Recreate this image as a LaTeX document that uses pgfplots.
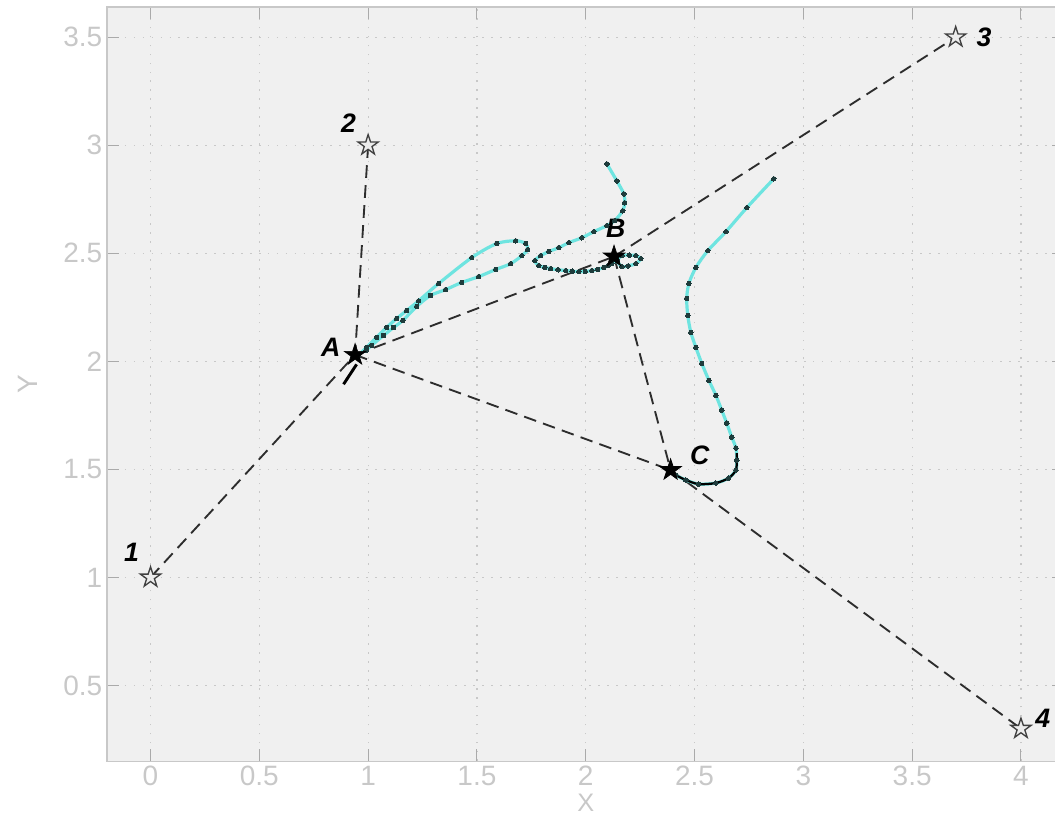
\documentclass[border=0pt]{standalone}
\usepackage{fontspec}
\setmainfont{Liberation Sans}
\usepackage{pgfplots}
\pgfplotsset{compat=1.18}
\definecolor{bgc}{RGB}{240,240,240}
\definecolor{axc}{RGB}{200,200,200}
\definecolor{tlc}{RGB}{200,200,200}
\definecolor{gridc}{RGB}{200,200,200}
\definecolor{cyanl}{RGB}{110,228,224}
\definecolor{dotc}{RGB}{30,60,60}
\definecolor{dashc}{RGB}{45,45,45}
\pgfdeclareplotmark{pentagram}{%
  \pgfpathmoveto{\pgfpointpolar{90}{\pgfplotmarksize}}%
  \pgfpathlineto{\pgfpointpolar{126}{0.382\pgfplotmarksize}}%
  \pgfpathlineto{\pgfpointpolar{162}{\pgfplotmarksize}}%
  \pgfpathlineto{\pgfpointpolar{198}{0.382\pgfplotmarksize}}%
  \pgfpathlineto{\pgfpointpolar{234}{\pgfplotmarksize}}%
  \pgfpathlineto{\pgfpointpolar{270}{0.382\pgfplotmarksize}}%
  \pgfpathlineto{\pgfpointpolar{306}{\pgfplotmarksize}}%
  \pgfpathlineto{\pgfpointpolar{342}{0.382\pgfplotmarksize}}%
  \pgfpathlineto{\pgfpointpolar{18}{\pgfplotmarksize}}%
  \pgfpathlineto{\pgfpointpolar{54}{0.382\pgfplotmarksize}}%
  \pgfpathclose
  \pgfusepathqfillstroke
}
\pgfplotsset{
  netline/.style={dashc, line width=1.4pt, dash pattern=on 9.5pt off 5.5pt},
  traj/.style={cyanl, line width=2.4pt, smooth, tension=0.5, mark=*, mark size=1.7pt, mark options={fill=dotc, draw=dotc, line width=0pt}},
}
\begin{document}
\begin{tikzpicture}
\begin{axis}[
  name=ax, at={(0,0)}, anchor=south west,
  scale only axis, width=718pt, height=565.5pt,
  xmin=-0.2, xmax=4.2, ymin=0.15, ymax=3.64,
  xtick={0,0.5,1,1.5,2,2.5,3,3.5,4},
  ytick={0.5,1,1.5,2,2.5,3,3.5},
  axis background/.style={fill=bgc},
  axis line style={draw=axc, line width=0.8pt},
  tick style={draw=axc!85!black, line width=0.8pt},
  tick align=inside, tick pos=both, major tick length=9pt,
  grid=major,
  major grid style={draw=gridc, line width=0.9pt, dash pattern=on 1.2pt off 5.5pt},
  ticklabel style={font=\fontsize{21}{24}\selectfont, text=tlc},
  /pgf/number format/assume math mode=true,
  xlabel={X}, ylabel={Y},
  every axis x label/.style={at={(rel axis cs:0.5,0)}, yshift=-31pt, anchor=center, font=\fontsize{19}{22}\selectfont, text=tlc},
  every axis y label/.style={at={(rel axis cs:0,0.5)}, xshift=-59pt, rotate=90, anchor=center, font=\fontsize{21}{24}\selectfont, text=tlc},
  clip=false,
]
% dashed network
\addplot[netline] coordinates {(0,1) (0.94,2.03)};
\addplot[netline] coordinates {(1,3) (0.94,2.03)};
\addplot[netline] coordinates {(0.94,2.03) (2.13,2.485)};
\addplot[netline] coordinates {(0.94,2.03) (2.39,1.497)};
\addplot[netline] coordinates {(2.13,2.485) (3.7,3.5)};
\addplot[netline] coordinates {(2.13,2.485) (2.39,1.497)};
\addplot[netline] coordinates {(2.39,1.497) (4,0.3)};
% trajectory A
\addplot[traj] coordinates {
(0.99,2.05) (1.016,2.074) (1.071,2.12) (1.117,2.157) (1.159,2.189) (1.223,2.254) (1.287,2.305) (1.356,2.332) (1.430,2.365) (1.508,2.392) (1.586,2.425) (1.655,2.452) (1.706,2.489) (1.733,2.517) (1.724,2.545) (1.678,2.558) (1.591,2.545) (1.476,2.48) (1.324,2.36) (1.232,2.28) (1.177,2.235) (1.131,2.198) (1.085,2.157) (1.039,2.111) (0.993,2.065) (0.956,2.028)};
\addplot[black, line width=2.2pt] coordinates {(0.887,1.894) (0.947,1.986)};
% trajectory B
\addplot[traj] coordinates {
(2.097,2.914) (2.143,2.835) (2.175,2.775) (2.179,2.734) (2.170,2.697) (2.133,2.651) (2.097,2.628) (2.037,2.600) (1.982,2.572) (1.922,2.549) (1.876,2.526) (1.830,2.508) (1.793,2.489) (1.766,2.466) (1.784,2.443) (1.812,2.435) (1.839,2.429) (1.873,2.424) (1.908,2.420) (1.938,2.417) (1.968,2.415) (1.998,2.416) (2.028,2.420) (2.055,2.426) (2.083,2.434) (2.103,2.443) (2.120,2.452) (2.145,2.470) (2.166,2.489) (2.200,2.492) (2.230,2.489) (2.253,2.475) (2.230,2.452) (2.195,2.442) (2.166,2.438) (2.143,2.466) (2.138,2.485)};
% trajectory C
\addplot[traj] coordinates {
(2.864,2.845) (2.740,2.711) (2.644,2.600) (2.561,2.512) (2.506,2.434) (2.474,2.360) (2.464,2.291) (2.469,2.212) (2.483,2.134) (2.506,2.065) (2.533,1.991) (2.566,1.912) (2.598,1.843) (2.625,1.774) (2.648,1.714) (2.671,1.649) (2.690,1.599) (2.694,1.543) (2.690,1.497) (2.657,1.460) (2.598,1.437) (2.519,1.432) (2.460,1.451) (2.414,1.474) (2.395,1.497)};
\addplot[black, line width=1.7pt, smooth, tension=0.5] coordinates {
(2.694,1.575) (2.694,1.543) (2.690,1.497) (2.657,1.460) (2.598,1.437) (2.519,1.432) (2.460,1.451) (2.414,1.474) (2.395,1.497)};
% fixed points
\addplot[only marks, mark=pentagram, mark size=8pt, mark options={draw=black!75, fill=white!85!gray, line width=1pt}] coordinates {(0,1) (1,3) (3.7,3.5) (4,0.3)};
% Steiner points
\addplot[only marks, mark=pentagram, mark size=8.5pt, mark options={draw=black, fill=black, line width=0.5pt}] coordinates {(0.94,2.03) (2.13,2.485) (2.39,1.497)};
% labels
\node[font=\fontsize{20}{24}\selectfont\bfseries\itshape] at (axis cs:-0.087,1.116) {1};
\node[font=\fontsize{20}{24}\selectfont\bfseries\itshape] at (axis cs:0.91,3.10) {2};
\node[font=\fontsize{20}{24}\selectfont\bfseries\itshape] at (axis cs:3.83,3.50) {3};
\node[font=\fontsize{20}{24}\selectfont\bfseries\itshape] at (axis cs:4.10,0.347) {4};
\node[font=\fontsize{20}{24}\selectfont\bfseries\itshape] at (axis cs:0.828,2.065) {A};
\node[font=\fontsize{20}{24}\selectfont\bfseries\itshape] at (axis cs:2.138,2.616) {B};
\node[font=\fontsize{20}{24}\selectfont\bfseries\itshape] at (axis cs:2.524,1.565) {C};
\end{axis}
\pgfresetboundingbox
\path[use as bounding box] (-80.25pt,-42pt) rectangle (710.9pt,570.75pt);
\end{tikzpicture}
\end{document}
